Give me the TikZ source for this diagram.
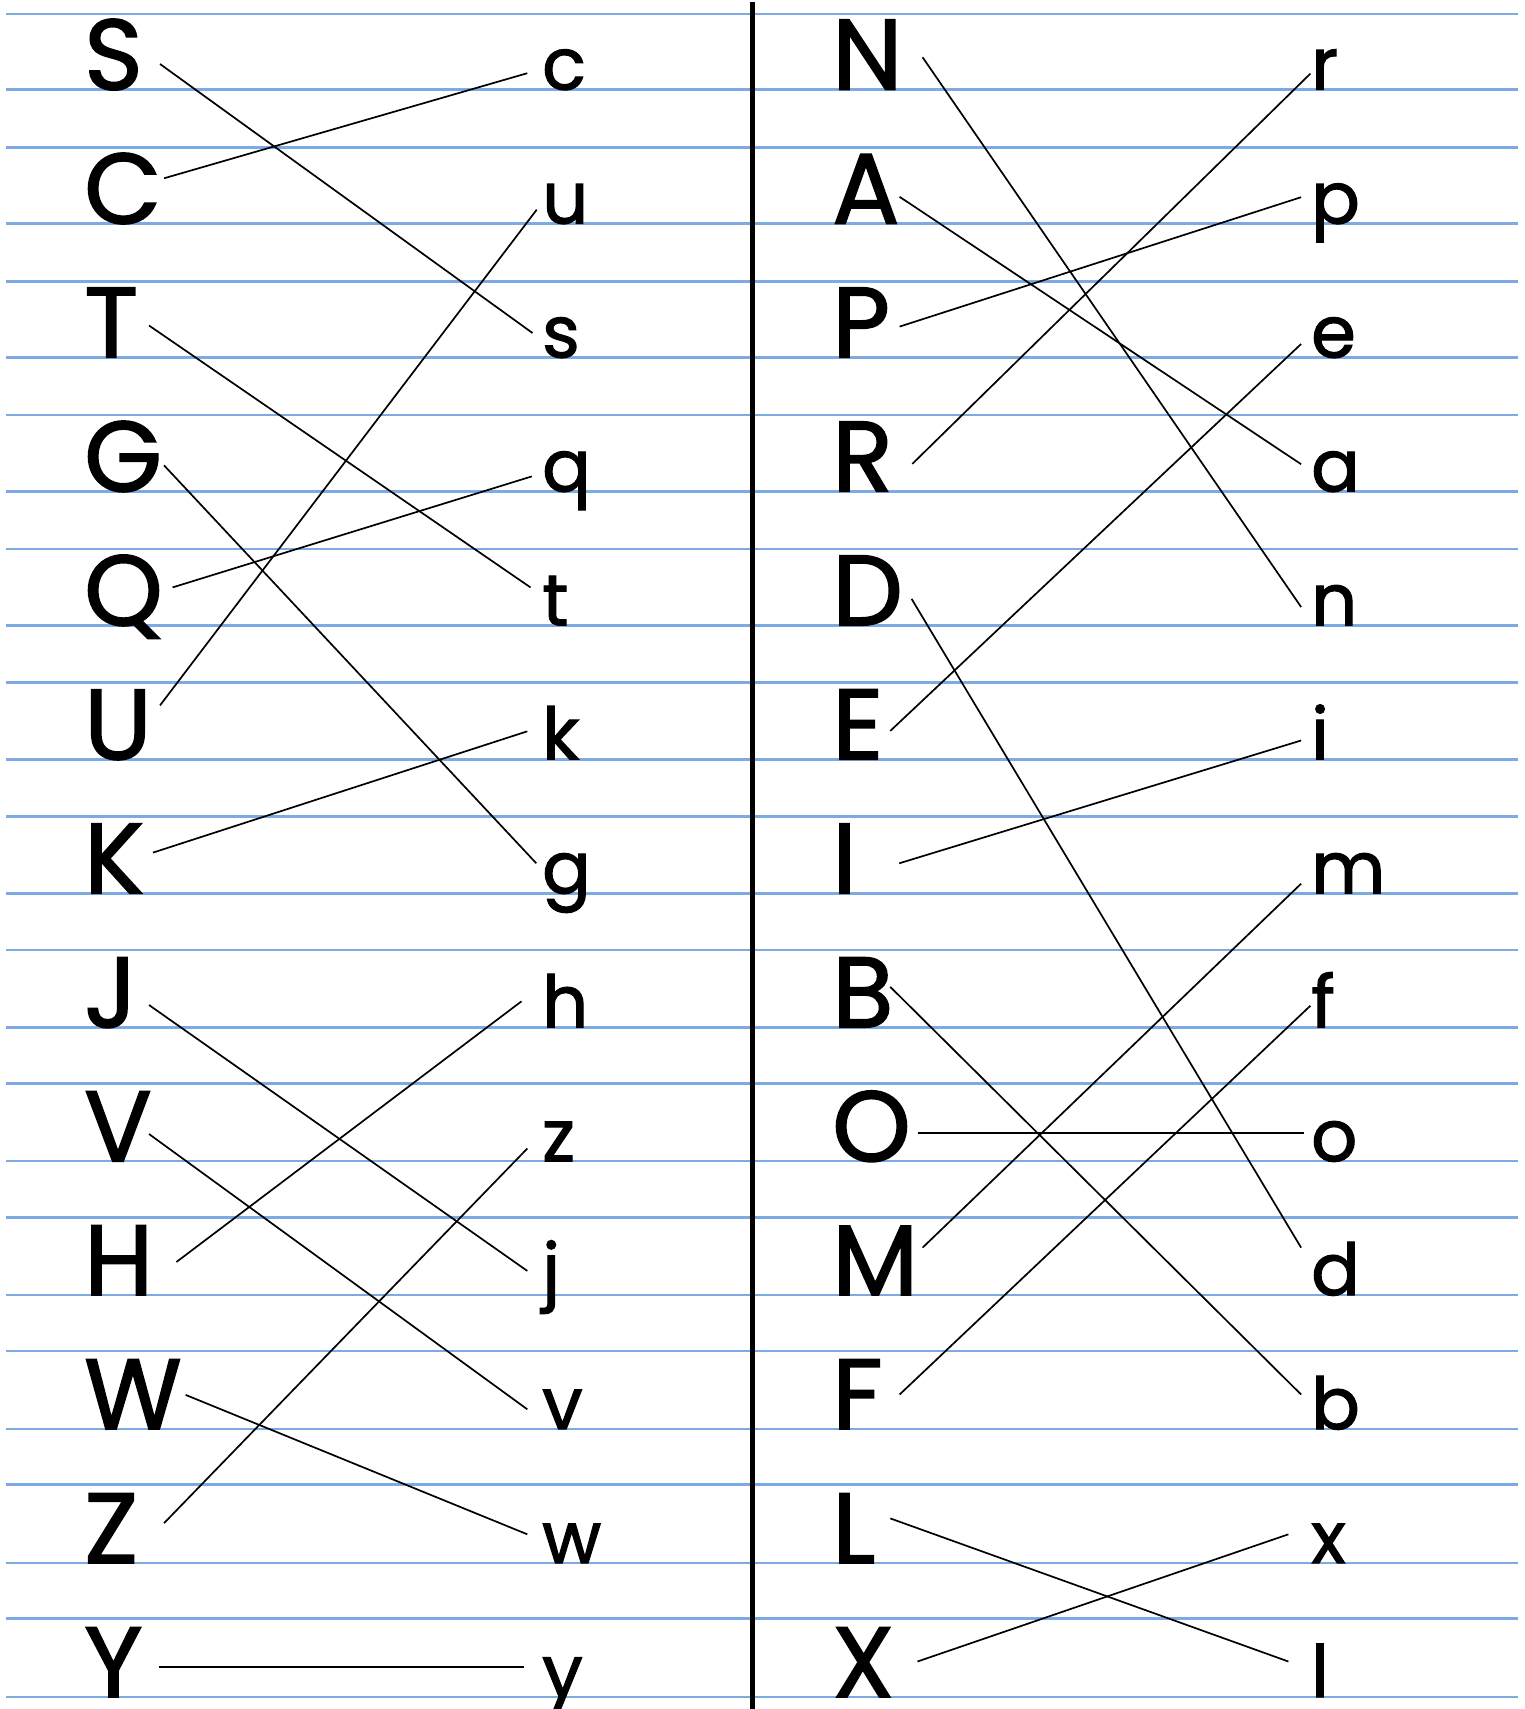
\documentclass[tikz,border=0pt]{standalone}
\usepackage{fontspec}
\setmainfont{Poppins}[FakeBold=1.6,AutoFakeBold=1.6]
\definecolor{RuleBlue}{HTML}{7DAAE2}
\tikzset{
  rule/.style={draw=RuleBlue, line width=2.6pt},
  margin/.style={draw=black, line width=5pt},
  match/.style={draw=black, line width=1.7pt},
  capl/.style={anchor=base west, inner sep=0pt, font=\fontsize{100}{100}\selectfont\bfseries},
  lowl/.style={anchor=base west, inner sep=0pt, font=\fontsize{72}{72}\selectfont\bfseries},
}

\begin{document}
\begin{tikzpicture}[x=1pt,y=-1pt]
  \fill[white] (0,0) rectangle (1525,1709);
  \useasboundingbox (0,0) rectangle (1525,1709);
  % ruled paper
  \foreach \k in {0,...,12} {
    \draw[rule] (6,14+133.7*\k) -- (1518,14+133.7*\k);
    \draw[rule] (6,89.5+133.96*\k) -- (1518,89.5+133.96*\k);
  }
  \draw[margin] (752,2) -- (752,1709);

  % left page: capitals
  \node[capl] (S) at (84,89.5) {S};
  \node[capl] (C) at (84,223.5) {C};
  \node[capl] (T) at (84,357.4) {T};
  \node[capl] (G) at (84,491.4) {G};
  \node[capl] (Q) at (84,625.3) {Q};
  \node[capl] (U) at (84,759.3) {U};
  \node[capl] (K) at (84,893.3) {K};
  \node[capl] (J) at (84,1027.2) {J};
  \node[capl] (V) at (84,1161.2) {V};
  \node[capl] (H) at (84,1295.1) {H};
  \node[capl] (W) at (84,1429.1) {W};
  \node[capl] (Z) at (84,1563.1) {Z};
  \node[capl] (Y) at (84,1697.0) {Y};
  % left page: small letters
  \node[lowl] (c) at (542,89.5) {c};
  \node[lowl] (u) at (542,223.5) {u};
  \node[lowl] (s) at (542,357.4) {s};
  \node[lowl] (q) at (542,491.4) {q};
  \node[lowl] (t) at (542,625.3) {t};
  \node[lowl] (k) at (542,759.3) {k};
  \node[lowl] (g) at (542,893.3) {g};
  \node[lowl] (h) at (542,1027.2) {h};
  \node[lowl] (z) at (542,1161.2) {z};
  \node[lowl] (j) at (542,1295.1) {j};
  \node[lowl] (v) at (542,1429.1) {v};
  \node[lowl] (w) at (542,1563.1) {w};
  \node[lowl] (y) at (542,1697.0) {y};

  % right page: capitals
  \node[capl] (N) at (832,89.5) {N};
  \node[capl] (A) at (832,223.5) {A};
  \node[capl] (P) at (832,357.4) {P};
  \node[capl] (R) at (832,491.4) {R};
  \node[capl] (D) at (832,625.3) {D};
  \node[capl] (E) at (832,759.3) {E};
  \node[capl] (I) at (832,893.3) {I};
  \node[capl] (B) at (832,1027.2) {B};
  \node[capl] (O) at (832,1161.2) {O};
  \node[capl] (M) at (832,1295.1) {M};
  \node[capl] (F) at (832,1429.1) {F};
  \node[capl] (L) at (832,1563.1) {L};
  \node[capl] (X) at (832,1697.0) {X};
  % right page: small letters
  \node[lowl] (r) at (1311,89.5) {r};
  \node[lowl] (p) at (1311,223.5) {p};
  \node[lowl] (e) at (1311,357.4) {e};
  \node[lowl] (a) at (1311,491.4) {a};
  \node[lowl] (n) at (1311,625.3) {n};
  \node[lowl] (i) at (1311,759.3) {i};
  \node[lowl] (m) at (1311,893.3) {m};
  \node[lowl] (f) at (1311,1027.2) {f};
  \node[lowl] (o) at (1311,1161.2) {o};
  \node[lowl] (d) at (1311,1295.1) {d};
  \node[lowl] (b) at (1311,1429.1) {b};
  \node[lowl] (x) at (1311,1563.1) {x};
  \node[lowl] (l) at (1311,1697.0) {l};

  % line ends
  \coordinate (S-tip) at (160,64);     \coordinate (s-tip) at (532.5,333);
  \coordinate (C-tip) at (164,178.3);  \coordinate (c-tip) at (527.3,73.2);
  \coordinate (T-tip) at (149,325.5);  \coordinate (t-tip) at (530.5,587.4);
  \coordinate (G-tip) at (164,465.3);  \coordinate (g-tip) at (536.3,863.3);
  \coordinate (Q-tip) at (172.6,587.4);\coordinate (q-tip) at (531.8,476.4);
  \coordinate (U-tip) at (160,705.4);  \coordinate (u-tip) at (536.7,209.7);
  \coordinate (K-tip) at (153,852.6);  \coordinate (k-tip) at (527.3,731.3);
  \coordinate (J-tip) at (149,1005);   \coordinate (j-tip) at (527.3,1270.9);
  \coordinate (V-tip) at (149,1134);   \coordinate (v-tip) at (527.3,1409.3);
  \coordinate (H-tip) at (176.4,1262); \coordinate (h-tip) at (521.5,1001.3);
  \coordinate (W-tip) at (185.7,1394.9);\coordinate (w-tip) at (527.3,1534.3);
  \coordinate (Z-tip) at (164,1523.2); \coordinate (z-tip) at (527.3,1148.5);
  \coordinate (Y-tip) at (158.5,1667.1);\coordinate (y-tip) at (523.9,1667.1);
  \coordinate (N-tip) at (922.6,57.3); \coordinate (n-tip) at (1301.1,607);
  \coordinate (A-tip) at (899.6,196.8);\coordinate (a-tip) at (1301.1,464.2);
  \coordinate (P-tip) at (899.6,326.6);\coordinate (p-tip) at (1301.1,197.2);
  \coordinate (R-tip) at (912.3,463.9);\coordinate (r-tip) at (1310.4,73.6);
  \coordinate (D-tip) at (911.6,598.9);\coordinate (d-tip) at (1301.1,1247.6);
  \coordinate (E-tip) at (890.3,730.9);\coordinate (e-tip) at (1301.1,344);
  \coordinate (I-tip) at (899.2,863.3);\coordinate (i-tip) at (1301.1,740.5);
  \coordinate (B-tip) at (890.3,986.9);\coordinate (b-tip) at (1301.1,1394.5);
  \coordinate (O-tip) at (917.5,1133); \coordinate (o-tip) at (1303.9,1133);
  \coordinate (M-tip) at (922.6,1247.6);\coordinate (m-tip) at (1301.1,883.7);
  \coordinate (F-tip) at (899.6,1394.5);\coordinate (f-tip) at (1310.4,1005.7);
  \coordinate (L-tip) at (890.3,1518.4);\coordinate (l-tip) at (1288.4,1661.5);
  \coordinate (X-tip) at (917.5,1661.5);\coordinate (x-tip) at (1288.4,1534.3);

  % matches
  \draw[match] (S-tip) -- (s-tip);
  \draw[match] (C-tip) -- (c-tip);
  \draw[match] (T-tip) -- (t-tip);
  \draw[match] (G-tip) -- (g-tip);
  \draw[match] (Q-tip) -- (q-tip);
  \draw[match] (U-tip) -- (u-tip);
  \draw[match] (K-tip) -- (k-tip);
  \draw[match] (J-tip) -- (j-tip);
  \draw[match] (V-tip) -- (v-tip);
  \draw[match] (H-tip) -- (h-tip);
  \draw[match] (W-tip) -- (w-tip);
  \draw[match] (Z-tip) -- (z-tip);
  \draw[match] (Y-tip) -- (y-tip);
  \draw[match] (N-tip) -- (n-tip);
  \draw[match] (A-tip) -- (a-tip);
  \draw[match] (P-tip) -- (p-tip);
  \draw[match] (R-tip) -- (r-tip);
  \draw[match] (D-tip) -- (d-tip);
  \draw[match] (E-tip) -- (e-tip);
  \draw[match] (I-tip) -- (i-tip);
  \draw[match] (B-tip) -- (b-tip);
  \draw[match] (O-tip) -- (o-tip);
  \draw[match] (M-tip) -- (m-tip);
  \draw[match] (F-tip) -- (f-tip);
  \draw[match] (L-tip) -- (l-tip);
  \draw[match] (X-tip) -- (x-tip);
\end{tikzpicture}
\end{document}
